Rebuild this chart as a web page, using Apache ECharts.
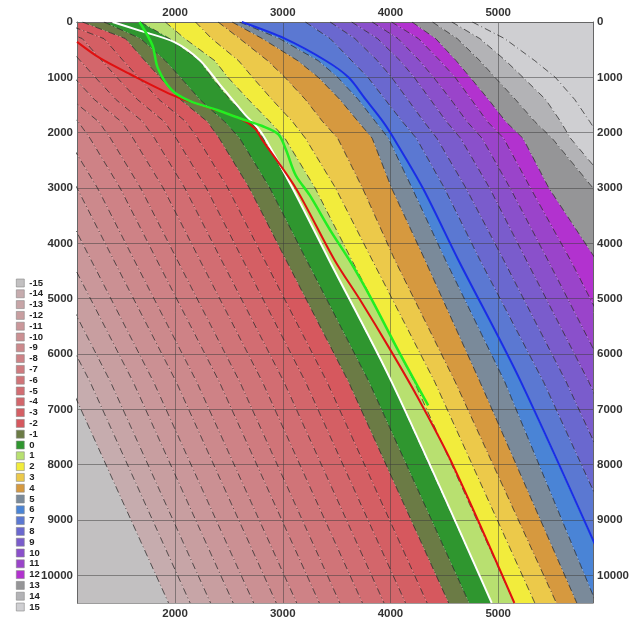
<!DOCTYPE html>
<html>
<head>
<meta charset="utf-8">
<script src="https://cdn.jsdelivr.net/npm/echarts@6/dist/echarts.min.js"></script>
<style>
  html, body { margin: 0; padding: 0; background: #fff; }
  #main { width: 635px; height: 622px; }
</style>
</head>
<body>
<div id="main"></div>
<script>
// depth rows at which every contour is sampled
var DEPTH = [0, 300, 700, 1000, 1400, 1800, 2100, 3000, 4300, 6500, 10500];

// contour boundaries (x at each depth), named by the level on their left
var FAR_LEFT = [-3000, -3000, -3000, -3000, -3000, -3000, -3000, -3000, -3000, -3000, -3000];
var bM15 = [-1460, -1060, -880, -740, -550, -300, -190, 90, 430, 1010, 1940];
var bM14 = [-1260, -860, -680, -540, -350, -100, 10, 290, 630, 1210, 2140];
var bM13 = [-1070, -670, -490, -350, -160, 90, 200, 480, 820, 1400, 2330];
var bM12 = [-860, -460, -280, -140, 50, 300, 410, 690, 1030, 1610, 2540];
var bM11 = [-670, -270, -90, 50, 240, 490, 600, 880, 1220, 1800, 2730];
var bM10 = [-460, -60, 120, 260, 450, 700, 810, 1090, 1430, 2010, 2940];
var bM9 = [-270, 130, 310, 450, 640, 890, 1000, 1280, 1620, 2200, 3130];
var bM8 = [-60, 340, 520, 660, 850, 1100, 1210, 1490, 1830, 2410, 3340];
var bM7 = [130, 530, 710, 850, 1040, 1290, 1400, 1680, 2020, 2600, 3530];
var bM6 = [340, 740, 920, 1060, 1250, 1500, 1610, 1890, 2230, 2810, 3740];
var bM5 = [540, 940, 1120, 1260, 1450, 1700, 1810, 2090, 2430, 3010, 3940];
var bM4 = [740, 1140, 1320, 1460, 1650, 1900, 2010, 2290, 2630, 3210, 4140];
var bM3 = [940, 1340, 1520, 1660, 1850, 2100, 2210, 2490, 2830, 3410, 4340];
var bM2 = [1140, 1540, 1720, 1860, 2050, 2300, 2410, 2690, 3030, 3610, 4540];
var bM1 = [1340, 1680, 1910, 2050, 2230, 2460, 2600, 2880, 3220, 3800, 4730];
var b0 = [1680, 1950, 2230, 2340, 2510, 2710, 2820, 3090, 3430, 4010, 4940];
var b1 = [1910, 2090, 2370, 2490, 2680, 2880, 3020, 3300, 3640, 4220, 5150];
var b2 = [2190, 2340, 2590, 2720, 2900, 3090, 3210, 3490, 3830, 4410, 5340];
var b3 = [2400, 2600, 2860, 3020, 3210, 3370, 3510, 3740, 4040, 4600, 5540];
var b4 = [2530, 2810, 3140, 3330, 3530, 3700, 3830, 4010, 4320, 4830, 5730];
var b5 = [2600, 2970, 3330, 3510, 3700, 3860, 3980, 4200, 4510, 5060, 5910];
var b6 = [2620, 3020, 3400, 3610, 3770, 3930, 4030, 4300, 4630, 5210, 6140];
var b7 = [3210, 3440, 3640, 3790, 3950, 4110, 4240, 4500, 4830, 5420, 6360];
var b8 = [3440, 3670, 3880, 4010, 4160, 4310, 4430, 4700, 5050, 5630, 6580];
var b9 = [3640, 3880, 4090, 4220, 4370, 4520, 4650, 4920, 5260, 5840, 6810];
var b10 = [3830, 4070, 4270, 4400, 4560, 4710, 4850, 5110, 5460, 6040, 7020];
var b11 = [4010, 4260, 4460, 4600, 4750, 4900, 5050, 5300, 5670, 6250, 7240];
var b12 = [4200, 4420, 4610, 4740, 4910, 5070, 5230, 5470, 5910, 6480, 7480];
var b13 = [4390, 4620, 4830, 4970, 5160, 5340, 5500, 5880, 6250, 6820, 7800];
var b14 = [4570, 4830, 5070, 5230, 5440, 5580, 5670, 6060, 6430, 7000, 7980];
var b15 = [4760, 5060, 5340, 5530, 5710, 5850, 5950, 6320, 6690, 7250, 8220];
var FAR_RIGHT = [12000, 12000, 12000, 12000, 12000, 12000, 12000, 12000, 12000, 12000, 12000];

// highlighted curves
var WHITE_X = [1420, 1680, 1990, 2230, 2420, 2640, 2770, 2850, 3090, 3430, 4010, 4940];
var WHITE_D = [0, 160, 360, 690, 1140, 1650, 1920, 2150, 3000, 4300, 6500, 10500];
var RED_X = [1090, 1300, 1580, 2000, 2330, 2600, 2740, 2810, 3120, 3480, 3720, 4000, 4240, 4570, 5150];
var RED_D = [360, 650, 940, 1340, 1560, 1740, 1920, 2130, 3000, 4300, 5030, 5930, 6740, 7970, 10500];
var GREEN_X = [1670, 1790, 1840, 1970, 2140, 2390, 2600, 2810, 2960, 3030, 3120, 3250, 3440, 3630, 3830, 4070, 4350];
var GREEN_D = [0, 420, 830, 1230, 1430, 1590, 1740, 1880, 2030, 2310, 2770, 3130, 3760, 4340, 5030, 5930, 6930];

var LEVELS = ['-15', '-14', '-13', '-12', '-11', '-10', '-9', '-8', '-7', '-6', '-5', '-4', '-3', '-2', '-1',
  '0', '1', '2', '3', '4', '5', '6', '7', '8', '9', '10', '11', '12', '13', '14', '15'];
var COLORS = ['#c2c0c1', '#c6acae', '#c7a5a7', '#c89ea0', '#ca979a', '#cb9093', '#cc898c', '#ce8286',
  '#cf7b7f', '#d07478', '#d26d72', '#d3666b', '#d45f64', '#d6585e', '#6b7b45',
  '#2f962f', '#b8e070', '#f2ec3c', '#ecc94a', '#d6993f', '#7a8a9a', '#4a84d6', '#5b78d2',
  '#6a68cf', '#7a5ccc', '#8a50cb', '#9a44ca', '#b232cf', '#959597', '#b3b3b6', '#cfcfd2'];

var BOUNDS = [FAR_LEFT, bM15, bM14, bM13, bM12, bM11, bM10, bM9, bM8, bM7, bM6, bM5, bM4, bM3, bM2, bM1,
  b0, b1, b2, b3, b4, b5, b6, b7, b8, b9, b10, b11, b12, b13, b14, b15, FAR_RIGHT];

function bandRenderer(left, right) {
  return function (params, api) {
    var pts = [];
    for (var j = 0; j < DEPTH.length; j++) pts.push(api.coord([left[j], DEPTH[j]]));
    for (var k = DEPTH.length - 1; k >= 0; k--) pts.push(api.coord([right[k], DEPTH[k]]));
    return { type: 'polygon', shape: { points: pts }, style: { fill: api.visual('color') } };
  };
}

function zip(xs, ds) {
  return xs.map(function (x, i) { return [x, ds[i]]; });
}

var series = [];
for (var i = 0; i < BOUNDS.length - 1; i++) {
  var lvl = Math.min(i, LEVELS.length - 1);
  series.push({
    type: 'custom',
    name: LEVELS[lvl],
    z: 1,
    clip: true,
    silent: true,
    itemStyle: { color: COLORS[lvl] },
    data: [[BOUNDS[i][0], 0]],
    renderItem: bandRenderer(BOUNDS[i], BOUNDS[i + 1])
  });
}

// dashed contour lines
for (var m = 1; m < BOUNDS.length - 1; m++) {
  if (BOUNDS[m] === b6) continue;
  series.push({
    type: 'line',
    name: 'c' + m,
    z: 3,
    silent: true,
    symbol: 'none',
    data: zip(BOUNDS[m], DEPTH),
    lineStyle: { color: 'rgba(25,25,25,0.7)', width: 1, type: [7, 3, 1, 3] }
  });
}

function overlay(name, data, color, width) {
  return {
    type: 'line', name: name, z: 4, silent: true, symbol: 'none', smooth: 0.3,
    data: data, lineStyle: { color: color, width: width }
  };
}
series.push(overlay('blue', zip(b6, DEPTH), '#1a2ee6', 2));
series.push(overlay('white', zip(WHITE_X, WHITE_D), '#ffffff', 2));
series.push(overlay('red', zip(RED_X, RED_D), '#e01010', 2));
series.push(overlay('green', zip(GREEN_X, GREEN_D), '#22ee22', 2.5));

var labelStyle = { fontFamily: 'Liberation Sans', fontWeight: 'bold', fontSize: 11.5, color: '#333',
  formatter: function (v) { return String(v); } };
var borderLine = { show: true, lineStyle: { color: '#666', width: 1 } };
var gridLine = { show: true, lineStyle: { color: 'rgba(60,60,60,0.5)', width: 1 } };

function xAxis(pos, split) {
  return {
    type: 'value', position: pos, min: 1090, max: 5880, z: 2,
    axisLine: borderLine, axisTick: { show: false }, splitLine: split ? gridLine : { show: false },
    axisLabel: Object.assign({ margin: pos === 'top' ? 3 : 5, showMinLabel: false, showMaxLabel: false }, labelStyle)
  };
}
function yAxis(pos, split) {
  return {
    type: 'value', position: pos, inverse: true, min: 0, max: 10500, interval: 1000, z: 2,
    axisLine: borderLine, axisTick: { show: false }, splitLine: split ? gridLine : { show: false },
    axisLabel: Object.assign({ margin: 4, showMaxLabel: false }, labelStyle)
  };
}

var chart = echarts.init(document.getElementById('main'), null, { renderer: 'canvas' });
chart.setOption({
  animation: false,
  backgroundColor: '#ffffff',
  grid: { left: 77, right: 42, top: 22, bottom: 19, outerBoundsMode: 'none' },
  legend: {
    data: LEVELS,
    orient: 'vertical',
    left: 16,
    top: 278,
    padding: 0,
    itemWidth: 8,
    itemHeight: 8,
    itemGap: 0.8,
    icon: 'rect',
    selectedMode: false,
    itemStyle: { borderColor: '#888', borderWidth: 0.6 },
    textStyle: { fontFamily: 'Liberation Sans', fontWeight: 'bold', fontSize: 9.5, lineHeight: 10, color: '#222' }
  },
  xAxis: [xAxis('bottom', true), xAxis('top', false)],
  yAxis: [yAxis('left', true), yAxis('right', false)],
  series: series
});
</script>
</body>
</html>
